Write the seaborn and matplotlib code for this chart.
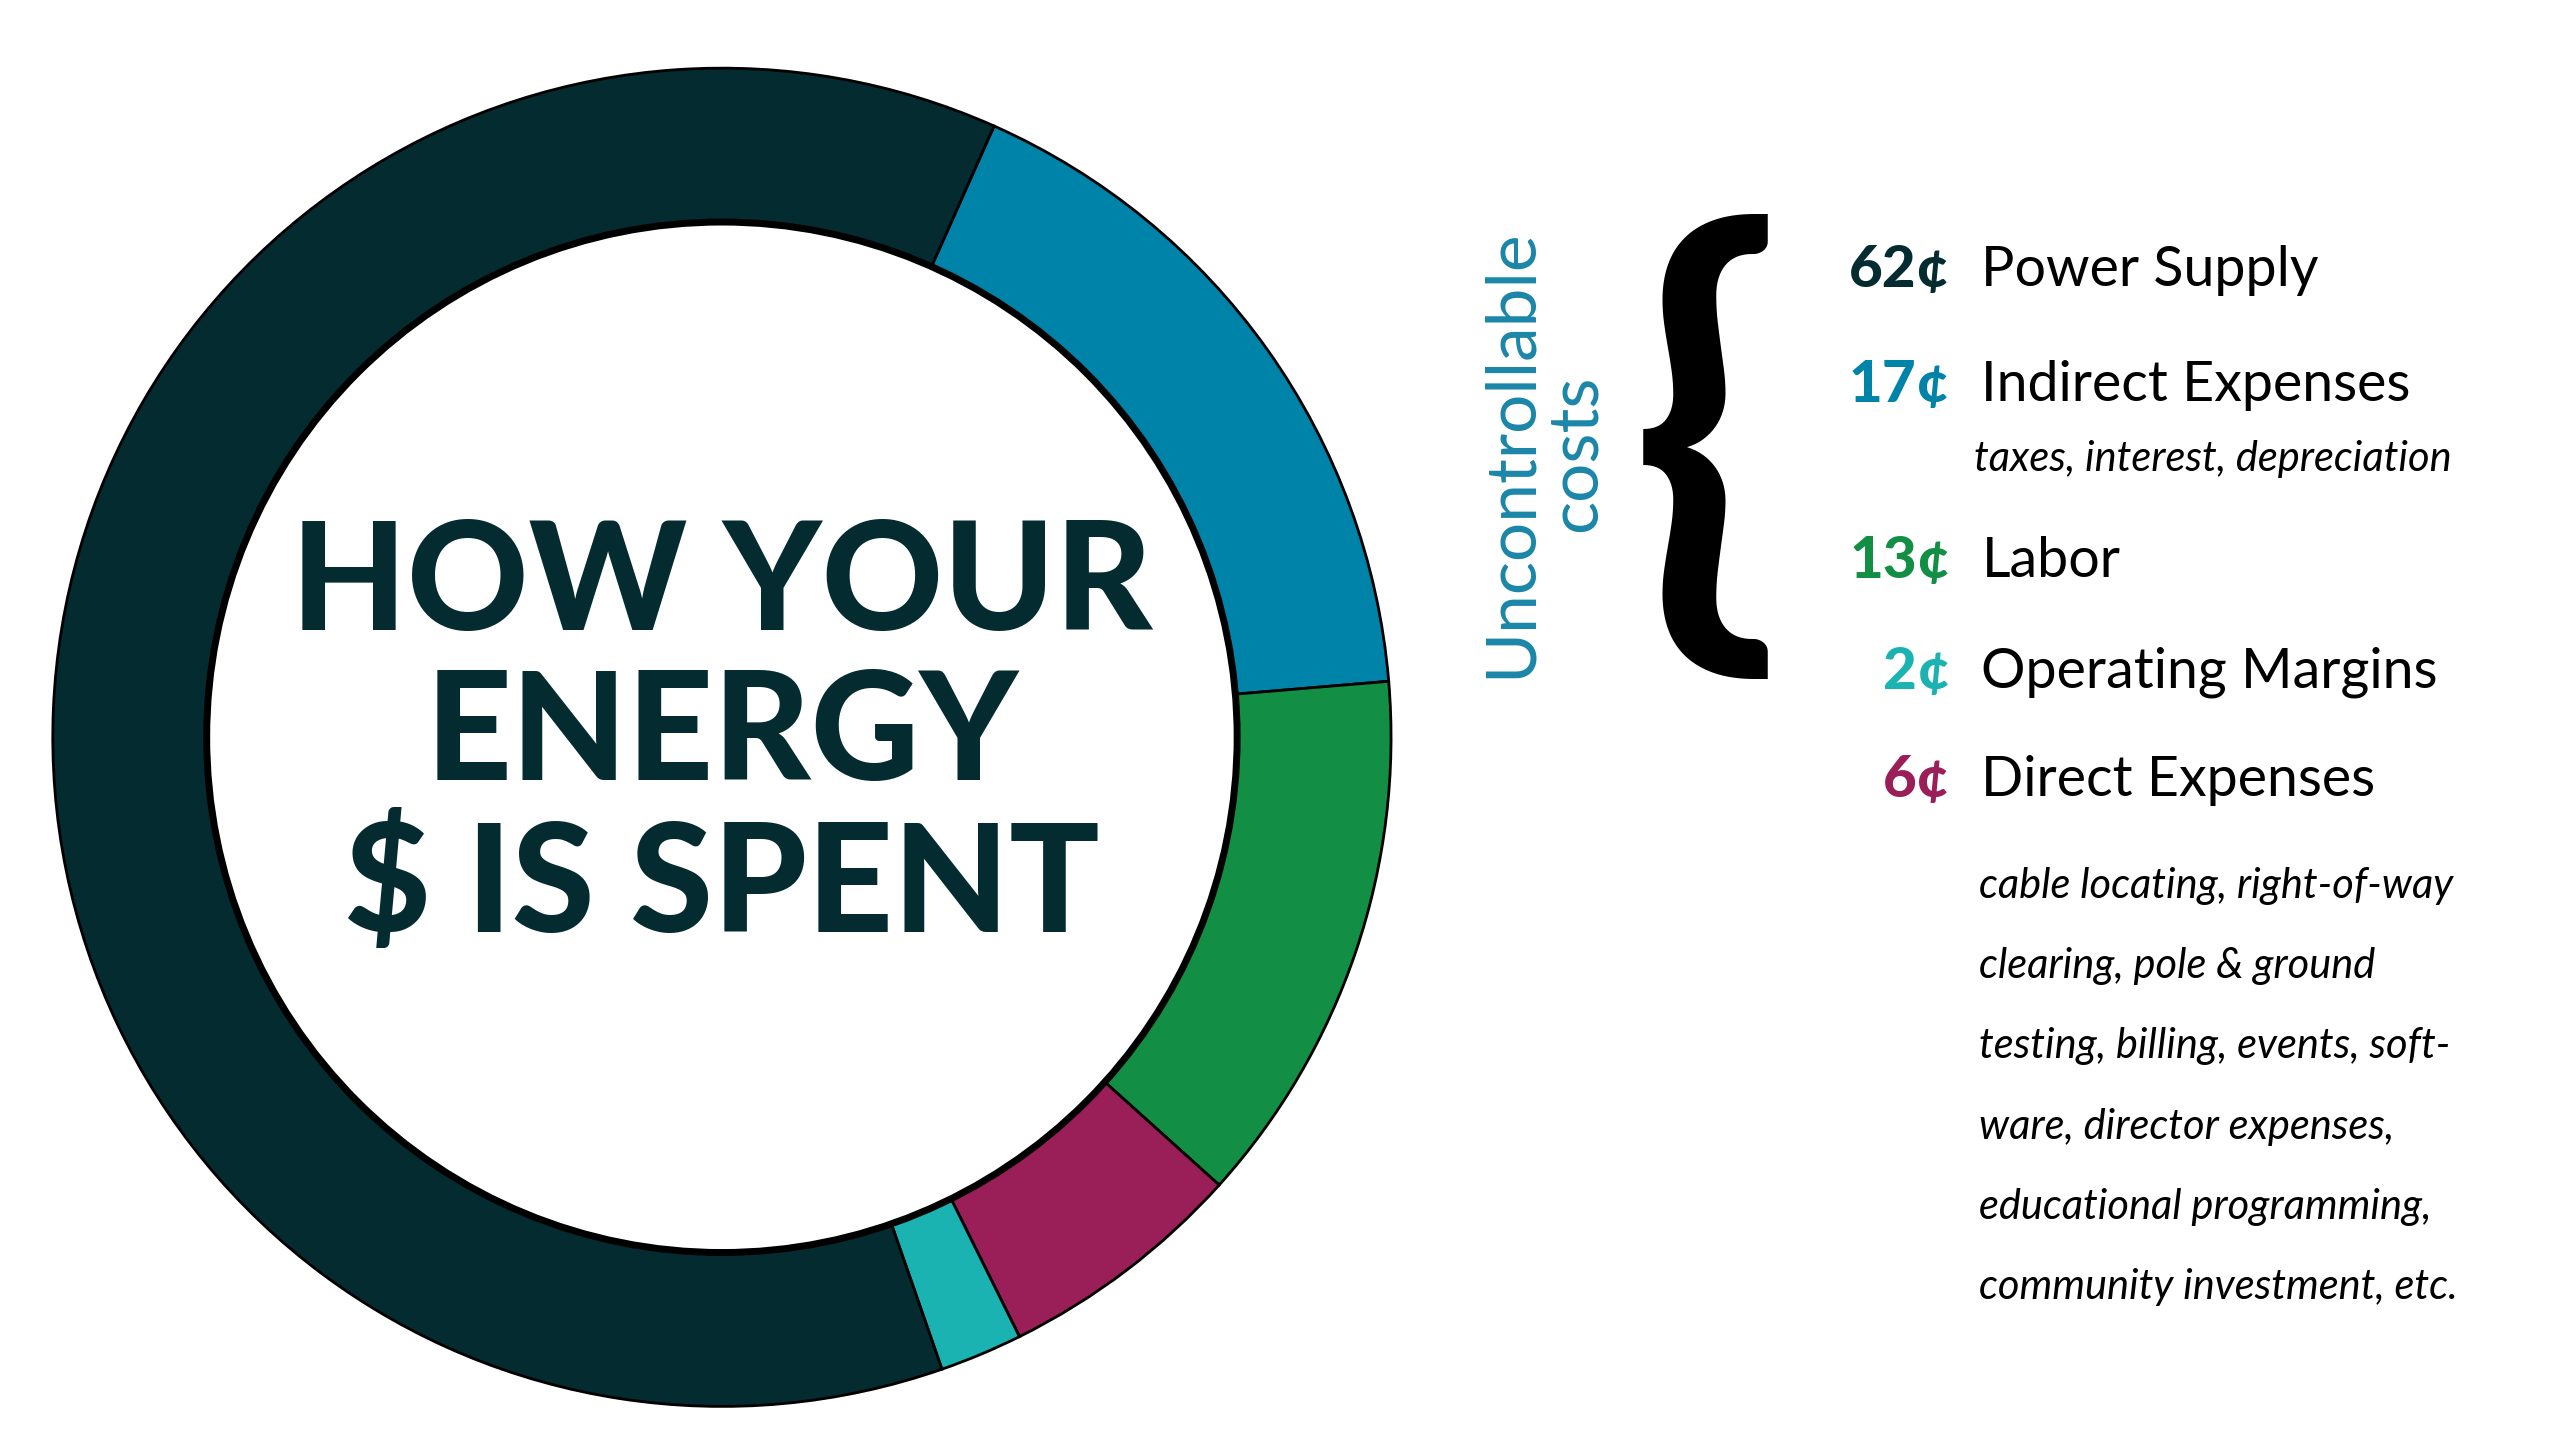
import matplotlib
matplotlib.use("Agg")
import matplotlib.pyplot as plt
import seaborn as sns

sns.set_theme(style="white")
plt.rcParams['font.family'] = ['Lato', 'DejaVu Sans']

labels = ["Indirect Expenses", "Labor", "Direct Expenses", "Operating Margins", "Power Supply"]
values = [17, 13, 6, 2, 62]
colors = ["#0083a9", "#128f45", "#9a1e57", "#1bb2b2", "#032b30"]

legend_vals = ["62¢", "17¢", "13¢", "2¢", "6¢"]
legend_labels = ["Power Supply", "Indirect Expenses", "Labor", "Operating Margins", "Direct Expenses"]
legend_colors = ["#032b30", "#0083a9", "#128f45", "#1bb2b2", "#9a1e57"]
legend_y = [0.812, 0.732, 0.610, 0.533, 0.458]
indirect_note = "taxes, interest, depreciation"
direct_note = ["cable locating, right-of-way", "clearing, pole & ground",
               "testing, billing, events, soft-", "ware, director expenses,",
               "educational programming,", "community investment, etc."]

fig = plt.figure(figsize=(25.6, 14.4), dpi=100)
ax = fig.add_axes([0.019, 0.021, 0.526, 0.934])
ax.pie(values, colors=colors, startangle=66, counterclock=False, radius=1,
       wedgeprops=dict(width=0.23, edgecolor="black", linewidth=2))
ax.add_patch(plt.Circle((0, 0), 0.77, fill=False, edgecolor="black", linewidth=5))
ax.set_xlim(-1.005, 1.005)
ax.set_ylim(-1.005, 1.005)
ax.set_aspect("equal")
ax.text(0, 0.0, "HOW YOUR\nENERGY\n$ IS SPENT", ha="center", va="center",
        fontsize=108, fontweight="black", color="#032b30", linespacing=1.1)

for v, l, c, y in zip(legend_vals, legend_labels, legend_colors, legend_y):
    fig.text(0.762, y, v, ha="right", va="center", fontsize=42, fontweight="black", color=c)
    fig.text(0.774, y, l, ha="left", va="center", fontsize=40, color="black")
fig.text(0.771, 0.681, indirect_note, ha="left", va="center", fontsize=30, style="italic", color="black")
for i, line in enumerate(direct_note):
    fig.text(0.773, 1 - (540 + 49 * i) / 878, line, ha="left", va="center",
             fontsize=30, style="italic", color="black")

fig.text(0.666, 0.685, "{", ha="center", va="center", fontsize=360, fontweight="bold", color="black")
fig.text(0.603, 0.685, "Uncontrollable\ncosts", ha="center", va="center", rotation=90,
         fontsize=50, color="#1a86a8", linespacing=1.05)

fig.savefig("out.png", dpi=100, facecolor="white")
